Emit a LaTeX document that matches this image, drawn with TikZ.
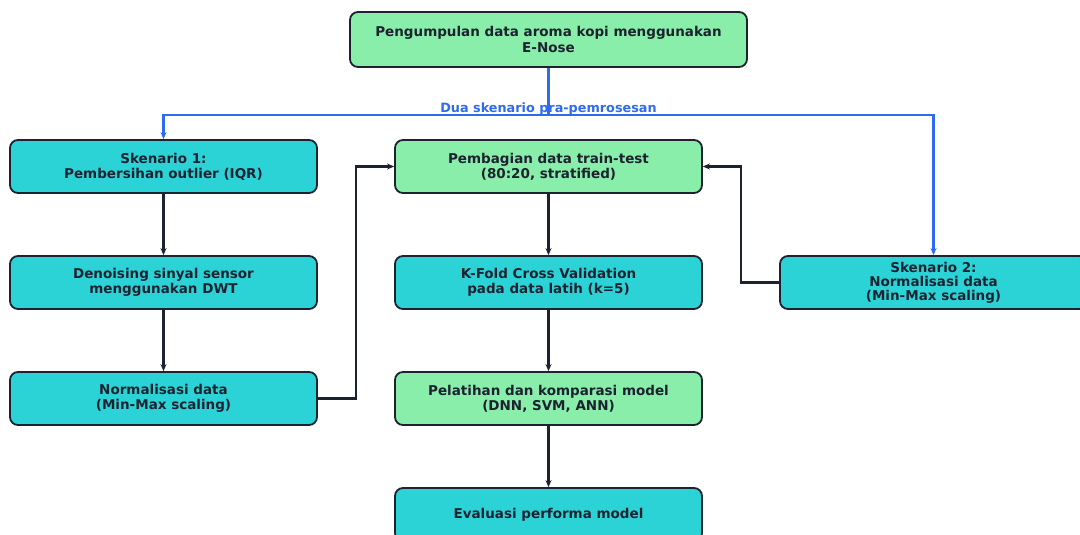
\documentclass[tikz,border=0pt]{standalone}
\usepackage{fontspec}
\setmainfont{DejaVu Sans}
\usetikzlibrary{arrows.meta}
\definecolor{cyanbox}{HTML}{2BD3D6}
\definecolor{greenbox}{HTML}{88EEAA}
\definecolor{edge}{HTML}{1C2230}
\definecolor{blueline}{HTML}{2F6BEE}
\tikzset{
  box/.style={draw=edge, line width=1.8pt, rounded corners=8pt, minimum width=307pt, minimum height=53pt, align=center, inner sep=2pt, font=\bfseries\fontsize{13.5}{15}\selectfont, text=edge},
  cbox/.style={box, fill=cyanbox},
  gbox/.style={box, fill=greenbox},
  conn/.style={draw=edge, line width=2.2pt, -{Stealth[length=7pt,width=6pt]}},
  bconn/.style={draw=blueline, line width=2.2pt, -{Stealth[length=7pt,width=6pt]}},
}
\begin{document}
\begin{tikzpicture}[x=1pt,y=-1pt]
\useasboundingbox (0,0) rectangle (1080,535);
\node[gbox, minimum width=397pt, minimum height=55pt, font=\bfseries\fontsize{13.5}{16.5}\selectfont] (top) at (548.5,39.5) {Pengumpulan data aroma kopi menggunakan\\E-Nose};
\node[cbox] (s1) at (163.5,166.5) {Skenario 1:\\Pembersihan outlier (IQR)};
\node[cbox] (dwt) at (163.5,282.5) {Denoising sinyal sensor\\menggunakan DWT};
\node[cbox] (norm) at (163.5,398.5) {Normalisasi data\\(Min-Max scaling)};
\node[gbox] (split) at (548.5,166.5) {Pembagian data train-test\\(80:20, stratified)};
\node[cbox] (kfold) at (548.5,282.5) {K-Fold Cross Validation\\pada data latih (k=5)};
\node[gbox] (train) at (548.5,398.5) {Pelatihan dan komparasi model\\(DNN, SVM, ANN)};
\node[cbox] (eval) at (548.5,514.5) {Evaluasi performa model};
\node[cbox, font=\bfseries\fontsize{13.5}{14}\selectfont] (s2) at (933.5,282.5) {Skenario 2:\\Normalisasi data\\(Min-Max scaling)};
\coordinate (bj) at (548.5,115);
\draw[draw=blueline, line width=2.2pt] (top.south) -- (bj);
\draw[bconn] (bj) -| (s1.north);
\draw[bconn] (bj) -| (s2.north);
\node[text=blueline, font=\bfseries\fontsize{12.8}{14}\selectfont] (lbl) at (548.5,108.5) {Dua skenario pra-pemrosesan};
\draw[conn] (s1) -- (dwt);
\draw[conn] (dwt) -- (norm);
\draw[conn] (norm.east) -- (356,398.5) |- (split.west);
\draw[conn] (split) -- (kfold);
\draw[conn] (kfold) -- (train);
\draw[conn] (train) -- (eval);
\draw[conn] (s2.west) -- (741,282.5) |- (split.east);
\end{tikzpicture}
\end{document}
